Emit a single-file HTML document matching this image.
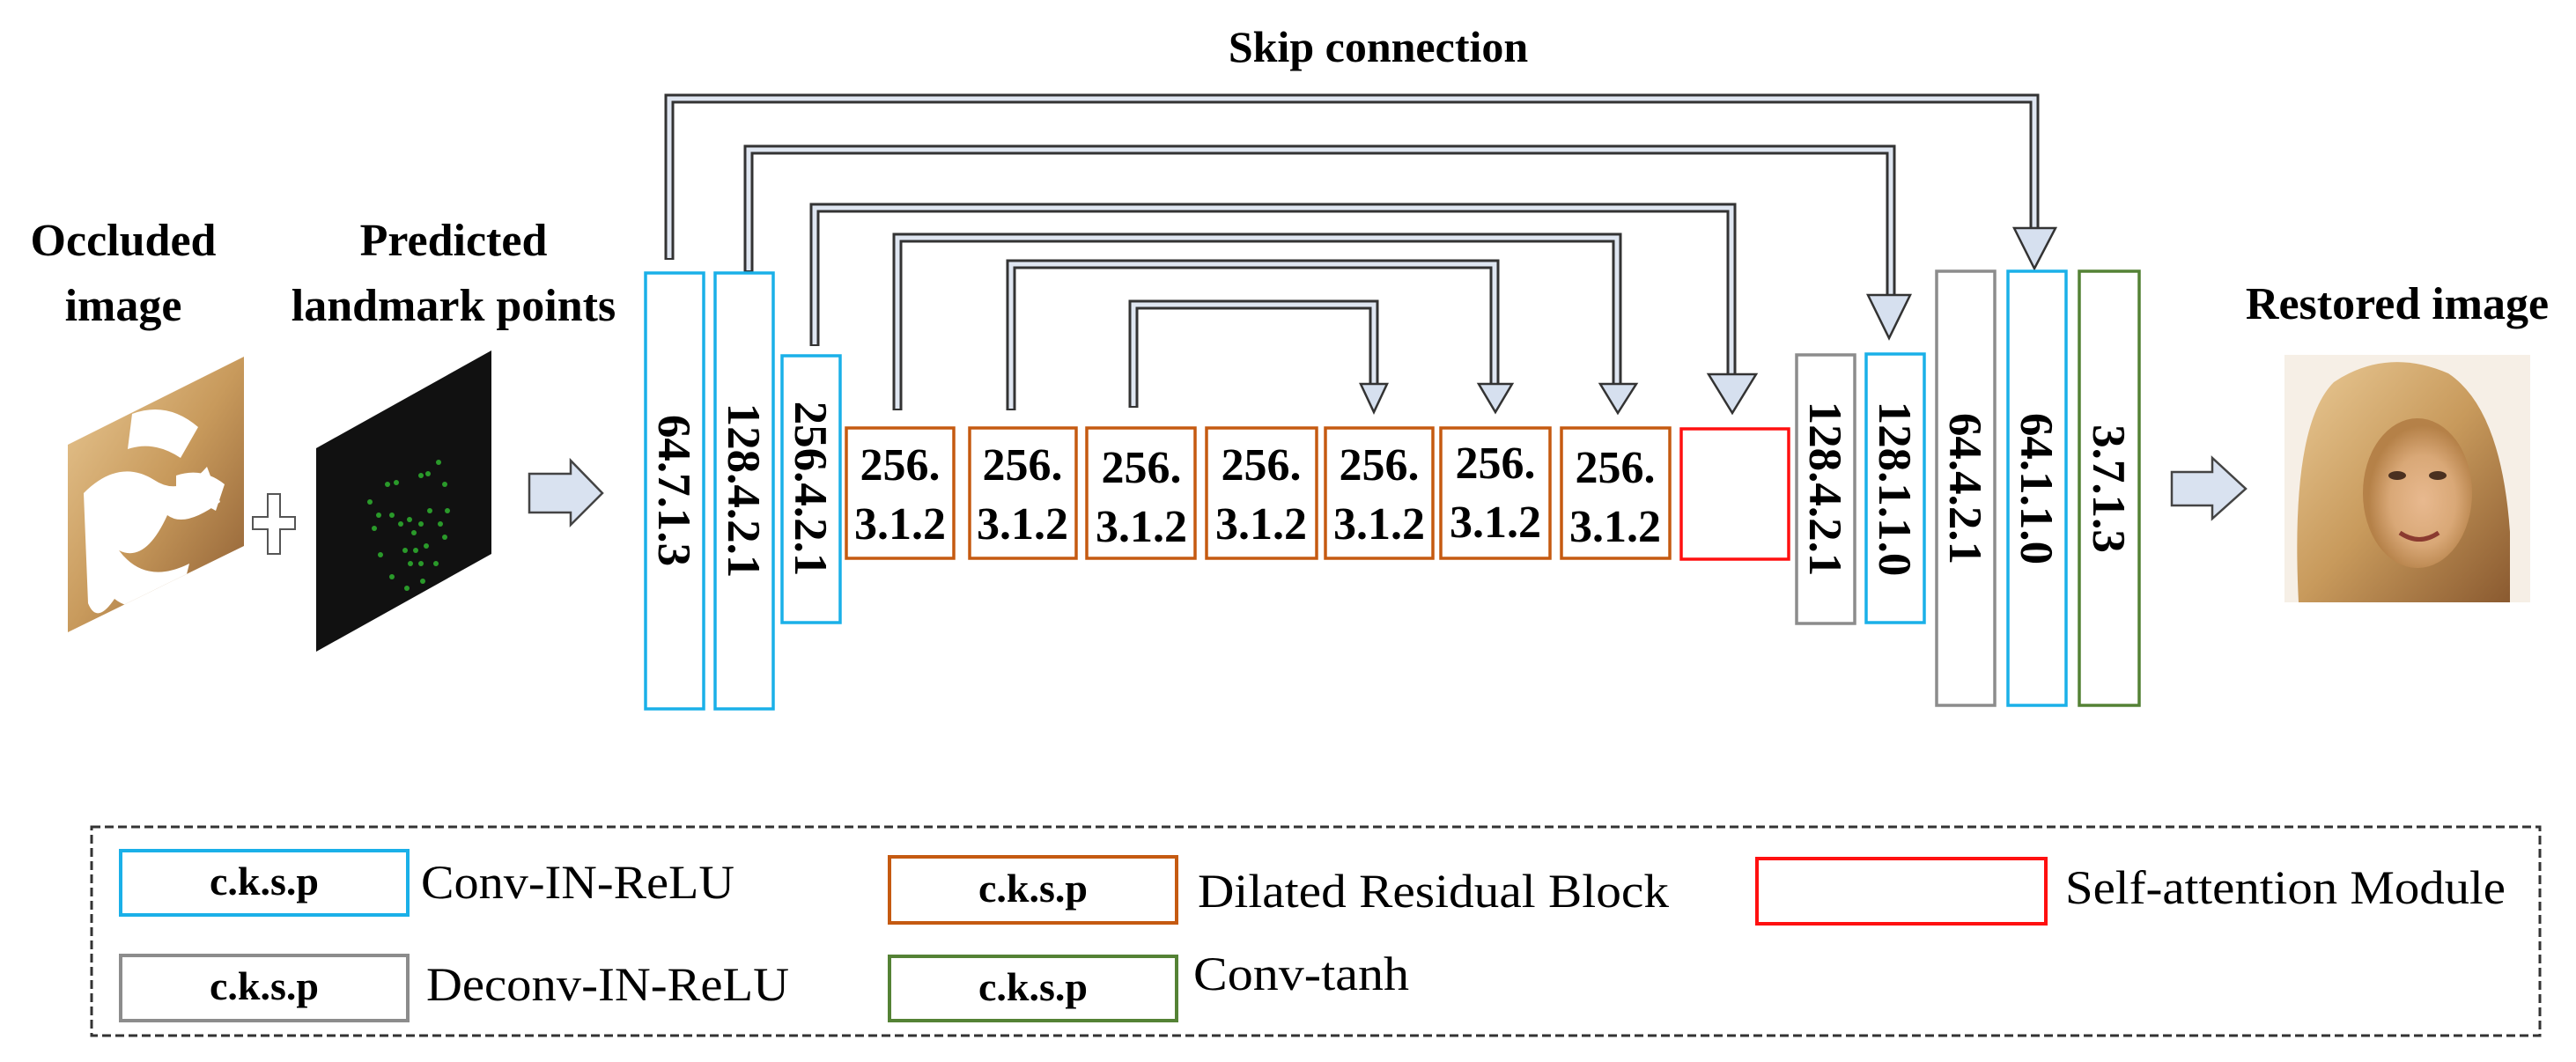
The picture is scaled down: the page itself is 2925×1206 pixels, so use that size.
<!DOCTYPE html>
<html><head><meta charset="utf-8"><style>
html,body{margin:0;padding:0;background:#fff;}
svg{display:block}
text{font-family:"Liberation Serif",serif;}
</style></head><body>
<svg width="2925" height="1206" viewBox="0 0 2925 1206" xmlns="http://www.w3.org/2000/svg">
<defs>
<linearGradient id="hair" x1="0" y1="0" x2="1" y2="1">
<stop offset="0" stop-color="#e9c995"/><stop offset="0.5" stop-color="#c89a5c"/><stop offset="1" stop-color="#8a5a30"/>
</linearGradient>
<radialGradient id="face" cx="0.55" cy="0.55" r="0.5">
<stop offset="0" stop-color="#e8b98f"/><stop offset="0.6" stop-color="#d9a877"/><stop offset="1" stop-color="#b58148"/>
</radialGradient>
<clipPath id="occ"><polygon points="77,505 277,405 277,620 77,718"/></clipPath>
</defs>

<text x="1565" y="70" font-size="50" font-weight="bold" text-anchor="middle">Skip connection</text>
<g font-size="52" font-weight="bold" text-anchor="middle">
<text x="140" y="290">Occluded</text>
<text x="140" y="364">image</text>
<text x="515" y="290">Predicted</text>
<text x="515" y="364">landmark points</text>
<text x="2722" y="362">Restored image</text>
</g>

<!-- occluded image -->
<g clip-path="url(#occ)">
<rect x="77" y="405" width="200" height="315" fill="url(#hair)"/>
<path d="M95,560 q40,-40 80,-15 q30,20 60,-15 l15,40 q-40,30 -60,15 q-25,55 -55,40 q30,40 80,15 l-10,40 q-50,20 -75,0 q-20,30 -30,5z" fill="#fff"/>
<path d="M150,470 q40,-15 75,15 l-20,35 q-30,-20 -60,-10z" fill="#fff"/>
<path d="M200,540 q30,-10 55,10 l-10,30 q-25,-15 -45,-5z" fill="#fff"/>
</g>
<!-- plus -->
<path d="M304,561 h14 v26 h17 v14 h-17 v28 h-14 v-28 h-17 v-14 h17z" fill="#fff" stroke="#555" stroke-width="2"/>
<!-- landmark -->
<polygon points="359,509 558,398 558,629 359,740" fill="#111"/>
<g fill="#2a9a2a">
<circle cx="420" cy="570" r="3"/><circle cx="425" cy="600" r="3"/><circle cx="432" cy="630" r="3"/><circle cx="445" cy="655" r="3"/><circle cx="462" cy="668" r="3"/><circle cx="480" cy="660" r="3"/><circle cx="495" cy="640" r="3"/><circle cx="505" cy="610" r="3"/><circle cx="508" cy="580" r="3"/><circle cx="505" cy="550" r="3"/><circle cx="498" cy="525" r="3"/><circle cx="440" cy="550" r="3"/><circle cx="450" cy="548" r="3"/><circle cx="478" cy="540" r="3"/><circle cx="486" cy="538" r="3"/><circle cx="465" cy="590" r="3"/><circle cx="470" cy="605" r="3"/><circle cx="460" cy="625" r="3"/><circle cx="472" cy="625" r="3"/><circle cx="484" cy="620" r="3"/>
<circle cx="445" cy="585" r="3"/><circle cx="455" cy="595" r="3"/><circle cx="488" cy="580" r="3"/><circle cx="478" cy="595" r="3"/><circle cx="466" cy="640" r="3"/><circle cx="478" cy="640" r="3"/><circle cx="430" cy="585" r="3"/><circle cx="500" cy="595" r="3"/>
</g>
<!-- input arrow -->
<polygon points="601,538 648,538 648,523 684,560 648,596 648,582 601,582" fill="#d9e2f0" stroke="#444" stroke-width="2.5"/>
<!-- output arrow -->
<polygon points="2466,536 2512,536 2512,520 2550,555 2512,589 2512,574 2466,574" fill="#d9e2f0" stroke="#444" stroke-width="2.5"/>
<!-- restored image -->
<rect x="2594" y="403" width="279" height="281" fill="#f6efe6"/>
<path d="M2610,684 q-10,-200 40,-250 q60,-40 130,-10 q60,40 70,180 l0,80z" fill="url(#hair)"/>
<ellipse cx="2745" cy="560" rx="62" ry="85" fill="url(#face)"/>
<ellipse cx="2722" cy="540" rx="10" ry="5" fill="#4a3020"/><ellipse cx="2768" cy="540" rx="10" ry="5" fill="#4a3020"/>
<path d="M2725,605 q22,15 44,0" stroke="#8a3a30" stroke-width="5" fill="none"/>

<!-- skip pipes -->
<g fill="none" stroke-linejoin="miter">
<g stroke="#333" stroke-width="11">
<path d="M760,295 V112 H2310 V262"/>
<path d="M850,309 V170 H2147 V338"/>
<path d="M925,393 V236 H1966 V428"/>
<path d="M1019,466 V270 H1836 V439"/>
<path d="M1148,466 V300 H1697 V439"/>
<path d="M1287,463 V346 H1560 V439"/>
</g>
<g stroke="#dfe6f1" stroke-width="5">
<path d="M760,293 V112 H2310 V264"/>
<path d="M850,307 V170 H2147 V340"/>
<path d="M925,391 V236 H1966 V430"/>
<path d="M1019,464 V270 H1836 V441"/>
<path d="M1148,464 V300 H1697 V441"/>
<path d="M1287,461 V346 H1560 V441"/>
</g>
</g>
<g fill="#d6e0ef" stroke="#333" stroke-width="2.5">
<polygon points="2287,259 2334,259 2310,305"/>
<polygon points="2121,335 2169,335 2145,384"/>
<polygon points="1940,425 1994,425 1967,469"/>
<polygon points="1817,436 1858,436 1837,469"/>
<polygon points="1679,436 1717,436 1698,468"/>
<polygon points="1545,436 1575,436 1560,468"/>
</g>

<!-- blocks -->
<g fill="none" stroke-width="3.5">
<rect x="733" y="310" width="66" height="495" stroke="#1ab0e8"/>
<rect x="812" y="310" width="66" height="495" stroke="#1ab0e8"/>
<rect x="888" y="404" width="66" height="303" stroke="#1ab0e8"/>
<rect x="961" y="486" width="122" height="148" stroke="#c55a11"/>
<rect x="1101" y="486" width="121" height="148" stroke="#c55a11"/>
<rect x="1234" y="486" width="123" height="148" stroke="#c55a11"/>
<rect x="1370" y="486" width="125" height="148" stroke="#c55a11"/>
<rect x="1505" y="486" width="122" height="148" stroke="#c55a11"/>
<rect x="1636" y="486" width="124" height="148" stroke="#c55a11"/>
<rect x="1773" y="486" width="123" height="148" stroke="#c55a11"/>
<rect x="1909" y="487" width="122" height="148" stroke="#ff1010"/>
<rect x="2040" y="403" width="66" height="305" stroke="#8c8c8c"/>
<rect x="2119" y="402" width="66" height="305" stroke="#1ab0e8"/>
<rect x="2199" y="308" width="66" height="493" stroke="#8c8c8c"/>
<rect x="2280" y="308" width="66" height="493" stroke="#1ab0e8"/>
<rect x="2361" y="308" width="68" height="493" stroke="#548235"/>
</g>
<g font-size="53" font-weight="bold" text-anchor="middle">
<text transform="translate(748,557) rotate(90)">64.7.1.3</text>
<text transform="translate(827,557) rotate(90)">128.4.2.1</text>
<text transform="translate(903,555) rotate(90)">256.4.2.1</text>
<text transform="translate(2055,555) rotate(90)">128.4.2.1</text>
<text transform="translate(2134,555) rotate(90)">128.1.1.0</text>
<text transform="translate(2214,555) rotate(90)">64.4.2.1</text>
<text transform="translate(2295,555) rotate(90)">64.1.1.0</text>
<text transform="translate(2377,555) rotate(90)">3.7.1.3</text>
</g>
<g font-size="52" font-weight="bold" text-anchor="middle">
<text x="1022" y="545">256.</text><text x="1022" y="612">3.1.2</text>
<text x="1161" y="545">256.</text><text x="1161" y="612">3.1.2</text>
<text x="1296" y="548">256.</text><text x="1296" y="615">3.1.2</text>
<text x="1432" y="545">256.</text><text x="1432" y="612">3.1.2</text>
<text x="1566" y="545">256.</text><text x="1566" y="612">3.1.2</text>
<text x="1698" y="543">256.</text><text x="1698" y="610">3.1.2</text>
<text x="1834" y="548">256.</text><text x="1834" y="615">3.1.2</text>
</g>

<!-- legend -->
<rect x="104" y="939" width="2780" height="237" fill="none" stroke="#333" stroke-width="3" stroke-dasharray="10,5"/>
<g fill="none" stroke-width="4">
<rect x="137" y="966" width="326" height="73" stroke="#1ab0e8"/>
<rect x="1010" y="973" width="326" height="75" stroke="#c55a11"/>
<rect x="1995" y="975" width="328" height="74" stroke="#ff1010"/>
<rect x="137" y="1085" width="326" height="74" stroke="#8c8c8c"/>
<rect x="1010" y="1086" width="326" height="73" stroke="#548235"/>
</g>
<g font-size="46" font-weight="bold" text-anchor="middle">
<text x="300" y="1016">c.k.s.p</text>
<text x="1173" y="1024">c.k.s.p</text>
<text x="300" y="1135">c.k.s.p</text>
<text x="1173" y="1136">c.k.s.p</text>
</g>
<g font-size="54">
<text x="478" y="1020" textLength="356" lengthAdjust="spacingAndGlyphs">Conv-IN-ReLU</text>
<text x="1360" y="1030" textLength="535" lengthAdjust="spacingAndGlyphs">Dilated Residual Block</text>
<text x="2345" y="1026" textLength="500" lengthAdjust="spacingAndGlyphs">Self-attention Module</text>
<text x="484" y="1136" textLength="412" lengthAdjust="spacingAndGlyphs">Deconv-IN-ReLU</text>
<text x="1355" y="1124" textLength="245" lengthAdjust="spacingAndGlyphs">Conv-tanh</text>
</g>
</svg>
</body></html>
